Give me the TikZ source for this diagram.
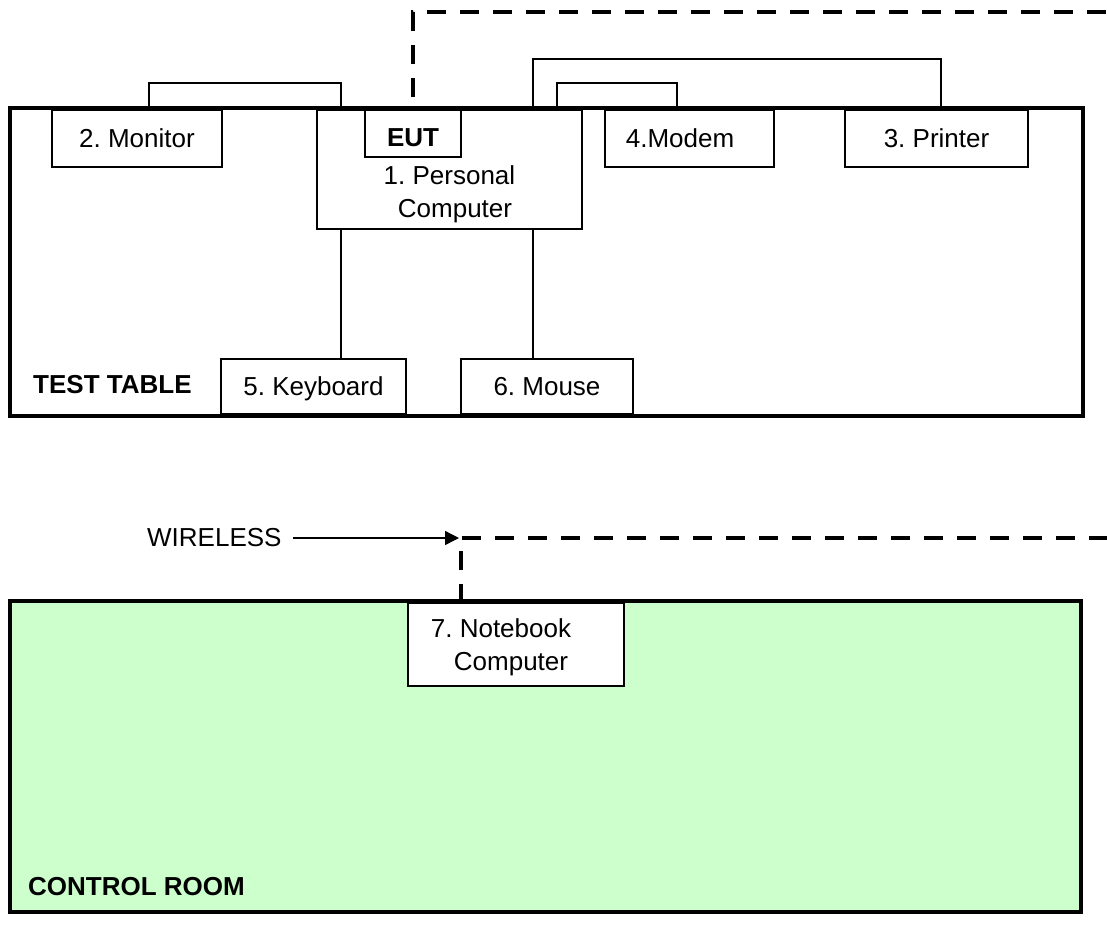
\documentclass[tikz,border=0pt]{standalone}
\usepackage{fontspec}
\setmainfont{Liberation Sans}
\frenchspacing
\usetikzlibrary{arrows.meta, calc, positioning}
\definecolor{roomgreen}{HTML}{CCFFCC}
\tikzset{%
    room/.style={draw, line width=4pt, anchor=north west, inner sep=0pt, outer sep=0pt},
    dev/.style={draw, line width=1.4pt, fill=white, anchor=north west, inner sep=0pt, outer sep=0pt, align=center, font=\fontsize{26}{33}\selectfont},
    lbl/.style={inner sep=0pt, font=\fontsize{26}{33}\selectfont},
    lblb/.style={inner sep=0pt, font=\fontsize{26}{33}\selectfont\bfseries},
    cab/.style={line width=1.4pt},
    caba/.style={line width=1.4pt, -{Triangle[length=14pt,width=14pt]}},
    wls/.style={line width=4pt, dash pattern=on 19pt off 14pt},
}
\begin{document}
\begin{tikzpicture}[x=1pt, y=-1pt]
    \useasboundingbox (0,0) rectangle (1107,924);
    % rooms
    \node [room, minimum width=1073pt, minimum height=308pt] (table) at (10,108) {};
    \node [room, fill=roomgreen, minimum width=1071pt, minimum height=311pt] (ctrl) at (10,601) {};
    \node [lblb, anchor=west] (tt) at (33,385) {TEST TABLE};
    \node [lblb, anchor=west] (cr) at (28,887) {CONTROL ROOM};
    % devices
    \node [dev, minimum width=170pt, minimum height=57pt] (mon) at (52,110) {2. Monitor};
    \node [dev, minimum width=265pt, minimum height=119pt,
        label={[lbl, align=center, anchor=south, yshift=6pt]south:{1. Personal\\\hspace*{11pt}Computer}}] (pc) at (317,110) {};
    \node [dev, font=\fontsize{26}{33}\selectfont\bfseries, text height=26pt, minimum width=96pt, minimum height=47pt] (eut) at (365,110) {EUT};
    \node [dev, minimum width=169pt, minimum height=57pt] (mdm) at (605,110) {4.Modem\hspace*{19pt}};
    \node [dev, minimum width=183pt, minimum height=57pt] (prn) at (845,110) {3. Printer};
    \node [dev, text depth=0pt, minimum width=185pt, minimum height=55pt] (kbd) at (221,359) {5. Keyboard};
    \node [dev, minimum width=172pt, minimum height=55pt] (mse) at (461,359) {6. Mouse};
    \node [dev, text depth=0pt, minimum width=216pt, minimum height=83pt] (nb) at (408,603) {7. Notebook\hspace*{30pt}\\Computer\hspace*{10pt}};
    \node [lbl, anchor=west] (wl) at (147,538) {WIRELESS};
    \coordinate (linkA) at (1107,12);
    \coordinate (linkB) at (1107,538);
    % cables
    \draw [cab] ([xshift=97pt]mon.north west) -- ++(0,-27) -| ([xshift=24pt]pc.north west);
    \draw [cab] ([xshift=216pt]pc.north west) -- ++(0,-51) -| ([xshift=96pt]prn.north west);
    \draw [cab] ([xshift=240pt]pc.north west) -- ++(0,-27) -| ([xshift=72pt]mdm.north west);
    \coordinate (kb) at ([xshift=24pt]pc.south west);
    \coordinate (ms) at ([xshift=216pt]pc.south west);
    \draw [cab] (kb) -- (kb |- kbd.north);
    \draw [cab] (ms) -- (ms |- mse.north);
    % wireless link
    \draw [wls] ([yshift=13pt]eut.north) |- (linkA);
    \coordinate (nbtop) at ([xshift=-55pt]nb.north);
    \draw [wls] (nbtop) |- (linkB);
    \draw [caba, shorten >=2pt] ([xshift=11pt]wl.east) -- (nbtop |- linkB);
\end{tikzpicture}
\end{document}
